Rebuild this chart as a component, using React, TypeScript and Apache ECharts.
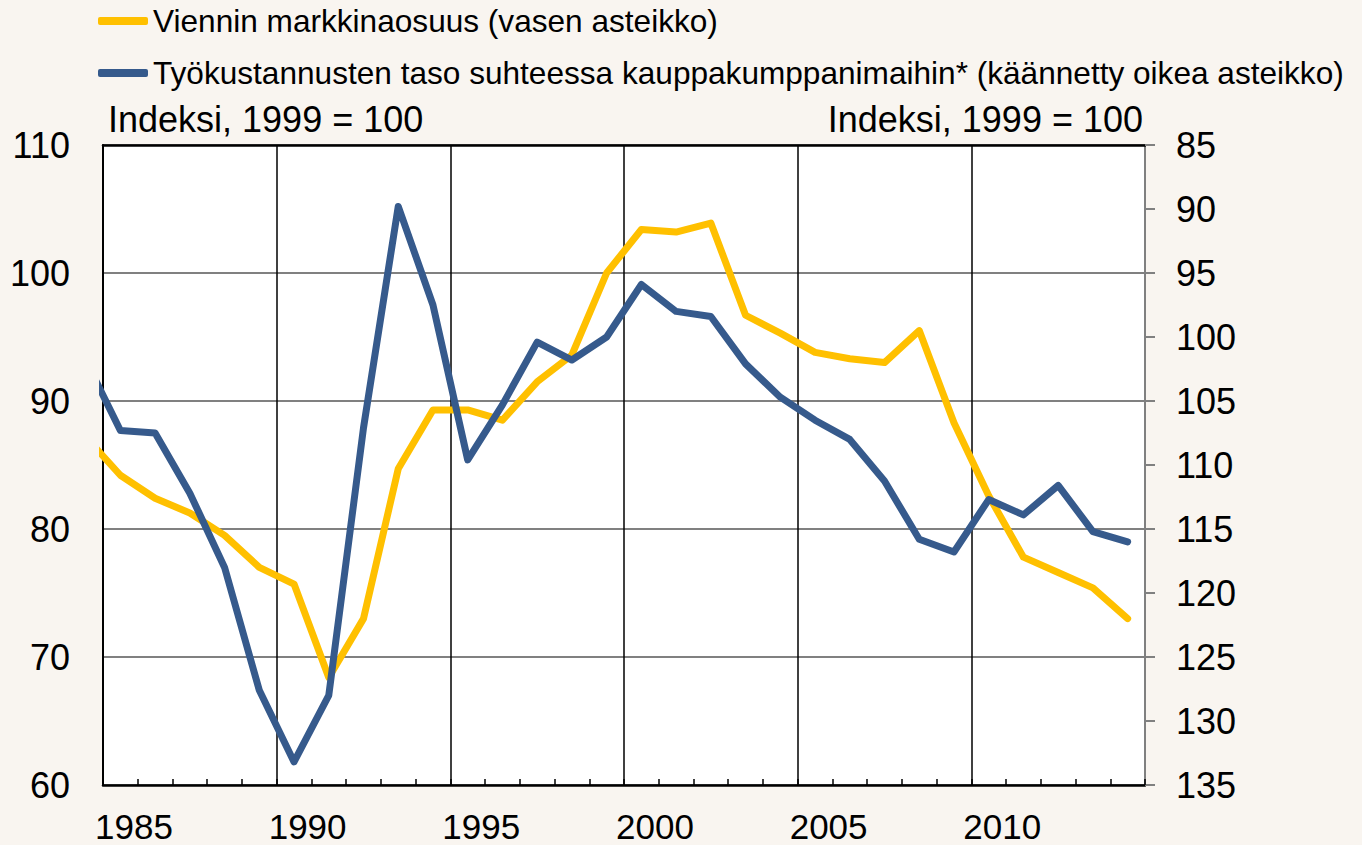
import React, { useEffect, useRef } from "react";
import * as echarts from "echarts";

// Mid-year positions; 1984 lies just outside the plotted range and is clipped at the edge.
const years = [1984, 1985, 1986, 1987, 1988, 1989, 1990, 1991, 1992, 1993, 1994, 1995, 1996, 1997, 1998, 1999, 2000, 2001, 2002, 2003, 2004, 2005, 2006, 2007, 2008, 2009, 2010, 2011, 2012, 2013, 2014];
const marketShare = [87.2, 84.2, 82.4, 81.25, 79.5, 77.0, 75.7, 68.4, 73.0, 84.7, 89.3, 89.3, 88.5, 91.5, 93.6, 100.0, 103.4, 103.2, 103.9, 96.7, 95.3, 93.8, 93.3, 93.0, 95.5, 88.3, 82.6, 77.8, 76.6, 75.4, 73.0];
const laborCost = [101.8, 107.3, 107.5, 112.2, 118.0, 127.6, 133.2, 128.0, 107.1, 89.8, 97.5, 109.6, 105.3, 100.4, 101.8, 100.0, 95.9, 98.0, 98.4, 102.1, 104.7, 106.5, 108.0, 111.25, 115.8, 116.8, 112.7, 113.9, 111.6, 115.2, 116.0];
const xTickLabels = [1985, 1990, 1995, 2000, 2005, 2010];

const seriesNames = [
  "Viennin markkinaosuus (vasen asteikko)",
  "Työkustannusten taso suhteessa kauppakumppanimaihin* (käännetty oikea asteikko)",
];
const axisTitle = "Indeksi, 1999 = 100";

const FONT = "Arial, 'Liberation Sans', Helvetica, sans-serif";

export default function App() {
  const ref = useRef<HTMLDivElement>(null);
  useEffect(() => {
    document.body.style.margin = "0";
    const chart = echarts.init(ref.current!, null, { renderer: "svg" });
    const yellowData = years.map((y, i) => [y + 0.5, marketShare[i]]);
    const blueData = years.map((y, i) => [y + 0.5, laborCost[i]]);
    chart.setOption({
      animation: false,
      backgroundColor: "#F9F5F0",
      textStyle: { fontFamily: FONT },
      title: [
        {
          text: axisTitle,
          left: 108,
          top: 101,
          padding: 0,
          textStyle: { fontSize: 36, fontWeight: "normal", color: "#000", fontFamily: FONT },
        },
        {
          text: axisTitle,
          right: 219,
          top: 101,
          padding: 0,
          textStyle: { fontSize: 36, fontWeight: "normal", color: "#000", fontFamily: FONT },
        },
      ],
      legend: {
        orient: "vertical",
        left: 98,
        top: 5,
        padding: 0,
        itemGap: 20,
        itemWidth: 50,
        itemHeight: 8,
        icon: "roundRect",
        itemStyle: { borderWidth: 0 },
        textStyle: { fontSize: 31.6, color: "#000", fontFamily: FONT, lineHeight: 32 },
        data: seriesNames,
      },
      grid: {
        left: 103,
        right: 217,
        top: 145,
        bottom: 60,
        show: true,
        backgroundColor: "#FFFFFF",
        borderWidth: 0,
      },
      xAxis: [
        {
          type: "value",
          min: 1985,
          max: 2015,
          interval: 5,
          axisLine: { show: true, lineStyle: { color: "#000", width: 2.5 } },
          axisTick: { show: true, inside: true, length: 6, lineStyle: { color: "#000", width: 1.5 } },
          minorTick: { show: true, splitNumber: 5, length: 6, lineStyle: { color: "#000", width: 1.5 } },
          splitLine: { show: true, lineStyle: { color: "#000", width: 1.5 } },
          axisLabel: {
            show: true,
            fontSize: 35,
            lineHeight: 30,
            color: "#000",
            fontFamily: FONT,
            margin: 26,
            align: "left",
            padding: [0, 0, 0, -8],
            formatter: (v: number) => (xTickLabels.indexOf(Math.round(v)) >= 0 ? String(Math.round(v)) : ""),
          },
        },
        {
          type: "value",
          position: "top",
          min: 1985,
          max: 2015,
          interval: 5,
          axisLine: { show: true, lineStyle: { color: "#000", width: 2.5 } },
          axisTick: { show: false },
          axisLabel: { show: false },
          splitLine: { show: false },
        },
      ],
      yAxis: [
        {
          type: "value",
          position: "left",
          min: 60,
          max: 110,
          interval: 10,
          axisLine: { show: true, lineStyle: { color: "#000", width: 2 } },
          axisTick: { show: false },
          splitLine: { show: true, lineStyle: { color: "#808080", width: 2 } },
          axisLabel: { fontSize: 36, color: "#000", fontFamily: FONT, margin: 33 },
        },
        {
          type: "value",
          position: "right",
          inverse: true,
          min: 85,
          max: 135,
          interval: 5,
          axisLine: { show: true, lineStyle: { color: "#808080", width: 2 } },
          axisTick: { show: true, inside: false, length: 10, lineStyle: { color: "#808080", width: 2 } },
          splitLine: { show: false },
          axisLabel: { fontSize: 36, color: "#000", fontFamily: FONT, margin: 31 },
        },
      ],
      series: [
        {
          name: seriesNames[0],
          type: "line",
          xAxisIndex: 0,
          yAxisIndex: 0,
          data: yellowData,
          showSymbol: false,
          symbol: "none",
          color: "#FFC000",
          lineStyle: { color: "#FFC000", width: 7, join: "round", cap: "round" },
          z: 3,
        },
        {
          name: seriesNames[1],
          type: "line",
          xAxisIndex: 0,
          yAxisIndex: 1,
          data: blueData,
          showSymbol: false,
          symbol: "none",
          color: "#365A8C",
          lineStyle: { color: "#365A8C", width: 7, join: "round", cap: "round" },
          z: 4,
        },
      ],
    });
    return () => chart.dispose();
  }, []);
  return <div ref={ref} style={{ width: 1362, height: 845 }} />;
}
